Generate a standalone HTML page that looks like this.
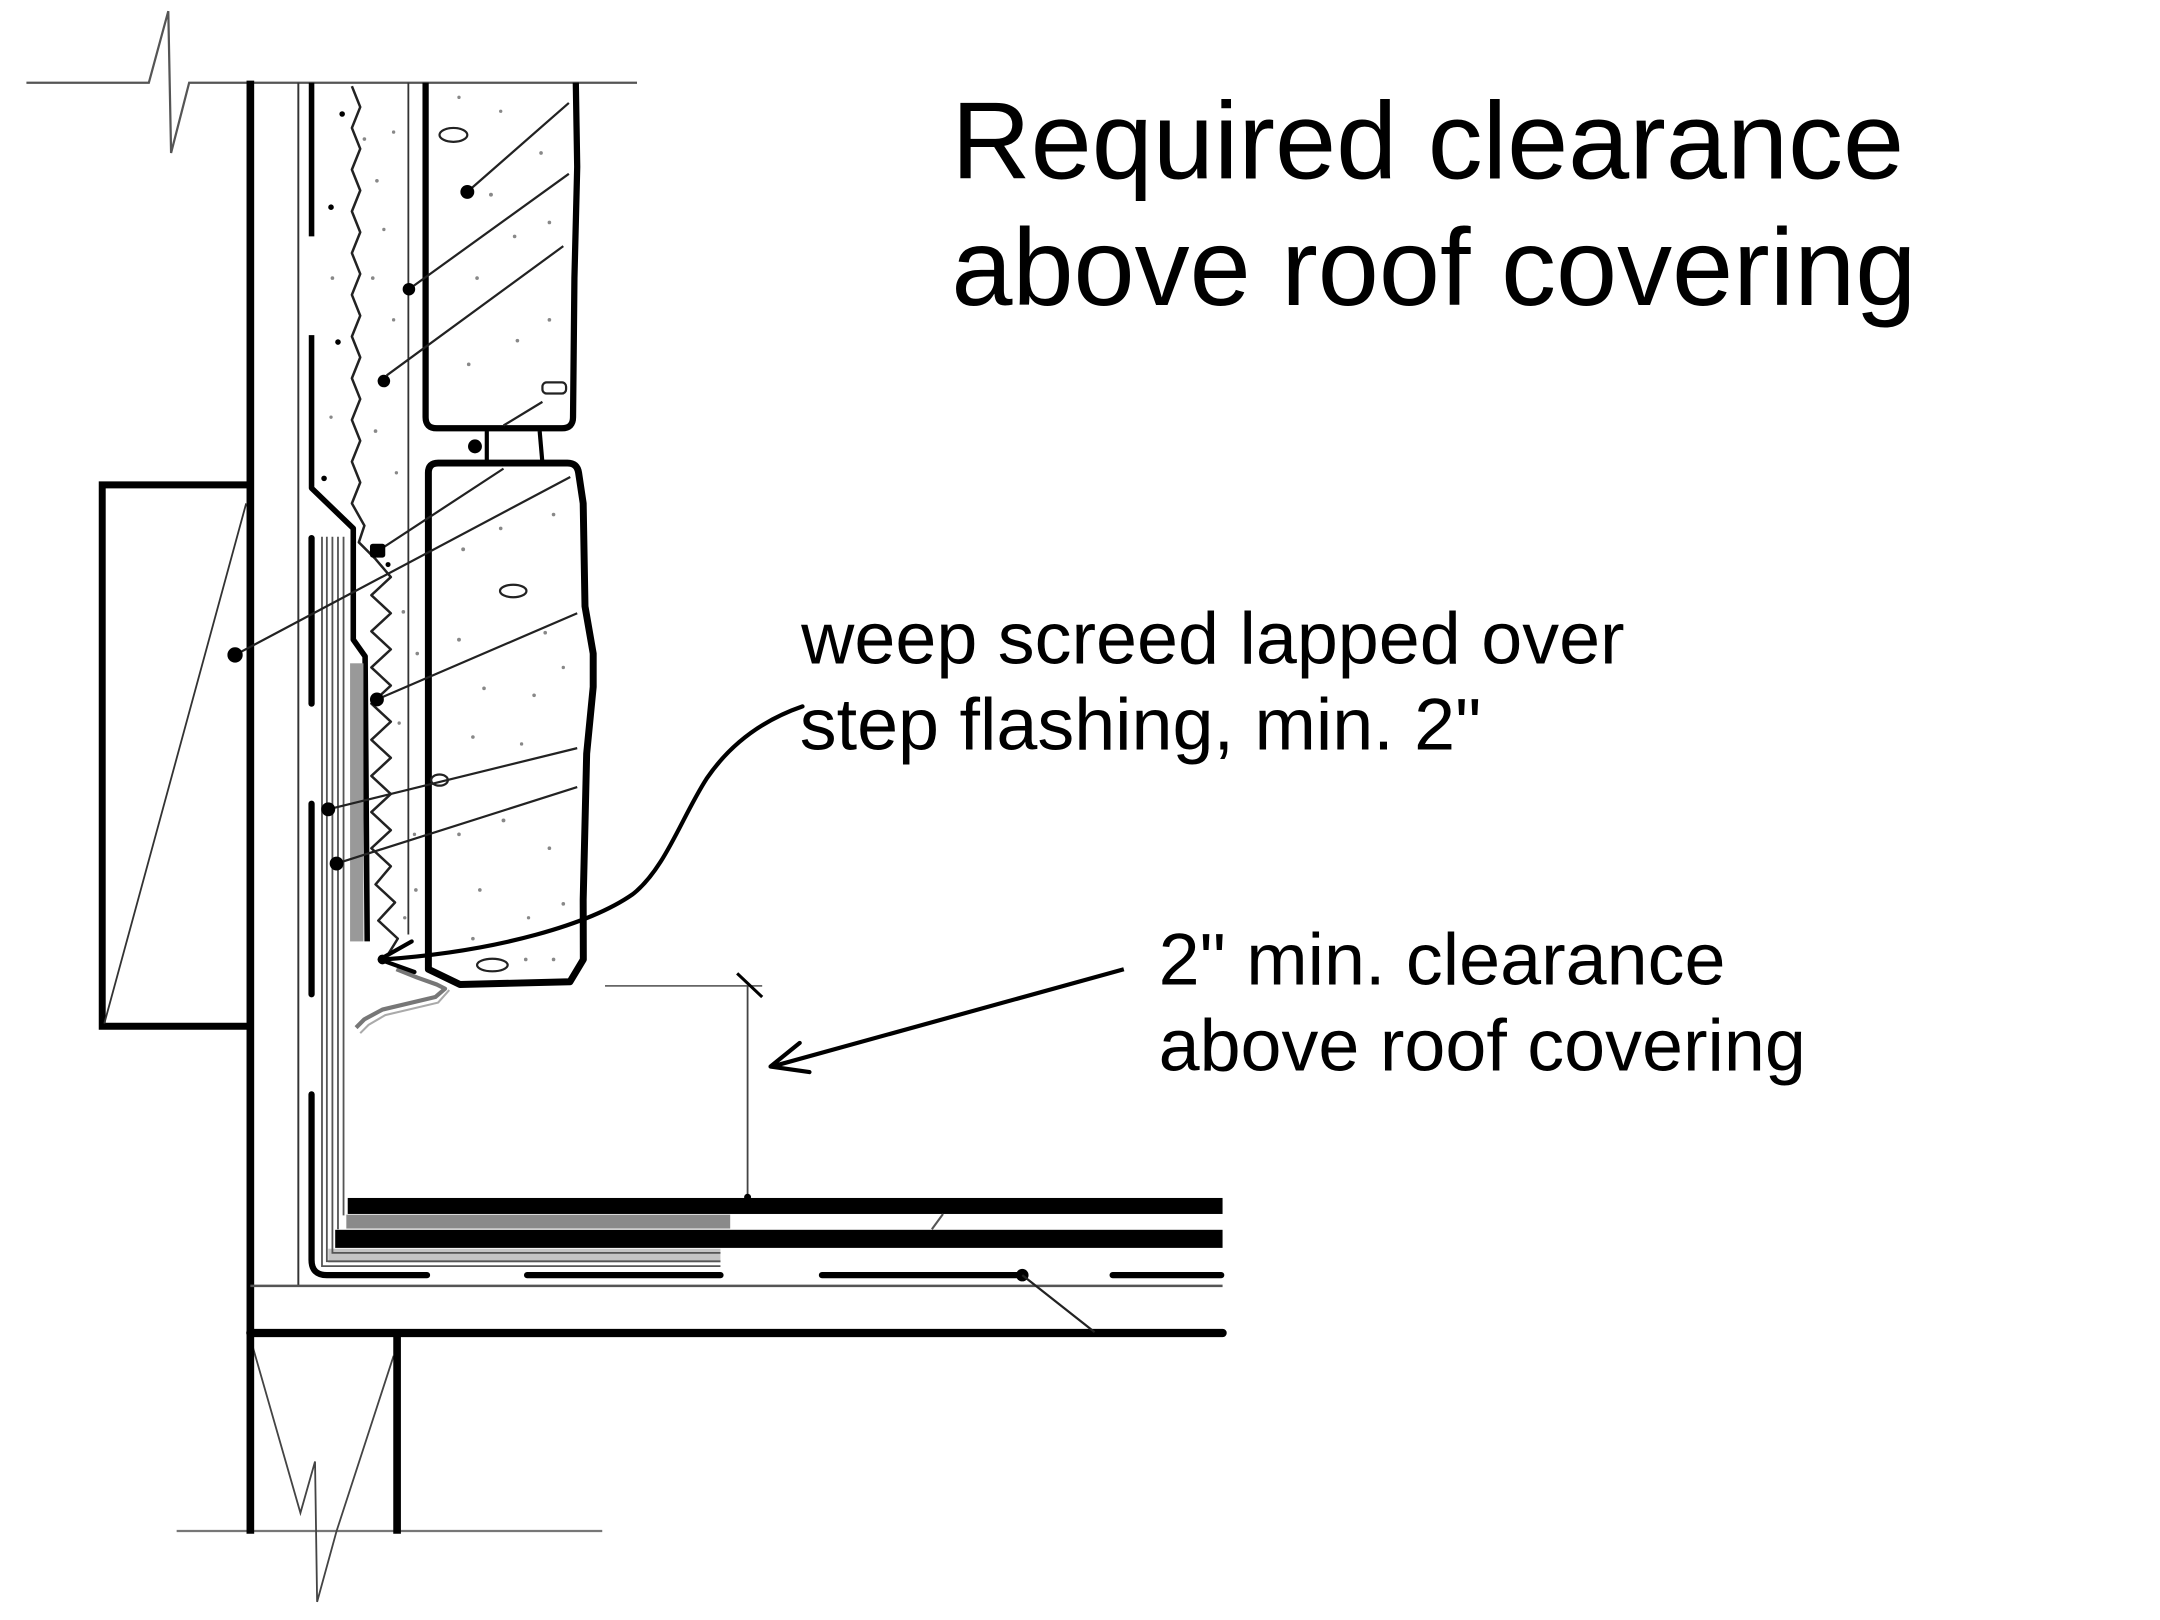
<!DOCTYPE html>
<html><head><meta charset="utf-8">
<style>
html,body{margin:0;padding:0;background:#fff;}
svg{display:block}
text{font-family:"Liberation Sans",Arial,sans-serif;fill:#000;}
</style>
</head><body>
<svg xmlns="http://www.w3.org/2000/svg" width="2160" height="1620" viewBox="0 0 1553 1165" preserveAspectRatio="none">
<rect width="1553" height="1165" fill="#fff"/>

<!-- break lines -->
<polyline points="19,59.5 107,59.5 121,8 123,110 136,59.5 458,59.5" stroke="#555" stroke-width="1.6" fill="none"/>
<line x1="127" y1="1101" x2="433" y2="1101" stroke="#777" stroke-width="1.6"/>
<polyline points="181,966 216,1088 226.5,1051 228,1152 242,1101 283,975" stroke="#444" stroke-width="1.3" fill="none"/>

<!-- wall -->
<line x1="180" y1="58" x2="180" y2="1103" stroke="#000" stroke-width="5.5"/>
<line x1="285.5" y1="958" x2="285.5" y2="1103" stroke="#000" stroke-width="5.5"/>

<!-- left box -->
<path d="M180,348.7 H73.5 V738 H180" stroke="#000" stroke-width="5" fill="none"/>
<line x1="177" y1="362" x2="75" y2="736" stroke="#333" stroke-width="1.3"/>

<!-- thin vertical sheathing line -->
<line x1="214.5" y1="59.5" x2="214.5" y2="925" stroke="#333" stroke-width="1.4"/>

<!-- deck -->
<line x1="180" y1="924.7" x2="879" y2="924.7" stroke="#555" stroke-width="1.8"/>
<line x1="180" y1="958.6" x2="879" y2="958.6" stroke="#000" stroke-width="6" stroke-linecap="round"/>

<!-- lath line -->
<line x1="224" y1="59.5" x2="224" y2="170" stroke="#000" stroke-width="4"/>
<polyline points="224,241 224,351 254,380 254,460 262.5,472 264,677" stroke="#000" stroke-width="4" fill="none" stroke-linejoin="round"/>

<!-- gray flashing layers -->
<rect x="251.7" y="477" width="9.6" height="200" fill="#999"/>
<rect x="236" y="898" width="282" height="10" fill="#c4c4c4"/>
<g stroke="#555" stroke-width="1.3" fill="none">
<path d="M231.5,386 V910.5 H518"/>
<path d="M235,386 V907 H518"/>
<path d="M239,386 V901 H518"/>
<path d="M243,386 V884"/>
<path d="M247,386 V874"/>
</g>
<rect x="249" y="873.5" width="276" height="10" fill="#8a8a8a"/>
<rect x="250" y="861.5" width="629" height="11.5" fill="#000"/>
<rect x="241" y="884.4" width="638" height="13" fill="#000"/>
<line x1="670" y1="884" x2="678" y2="873" stroke="#555" stroke-width="1.5"/>

<!-- dashed membrane -->
<g stroke="#000" stroke-width="4.5" fill="none" stroke-linecap="round">
<line x1="224" y1="387" x2="224" y2="506"/>
<line x1="224" y1="578" x2="224" y2="715"/>
<path d="M224,787 V906 Q224,917 235,917 H307"/>
<line x1="379" y1="917" x2="518" y2="917"/>
<line x1="591" y1="917" x2="732" y2="917"/>
<line x1="800" y1="917" x2="878" y2="917"/>
</g>
<circle cx="735" cy="917" r="4.5" fill="#000"/>
<line x1="735" y1="917" x2="787" y2="958" stroke="#222" stroke-width="1.6"/>

<!-- thin vertical line near block -->
<line x1="293.6" y1="59.5" x2="293.6" y2="672" stroke="#333" stroke-width="1.3"/>

<!-- wavy line -->
<polyline fill="none" stroke="#222" stroke-width="1.8" stroke-linejoin="round" points="253,62 259,77 253,92 259,107 253,122 259,137 253,152 259,167 253,182 259,197 253,212 259,227 253,242 259,257 253,272 259,287 253,302 259,317 253,332 259,347 253,362 262,378 258,390 270,402 281,415 267,428 281,441 267,454 281,467 267,480 281,493 267,506 281,519 267,532 281,545 267,558 281,571 267,584 281,597 267,610 281,623 270,636 284,649 272,662 286,675 278,688"/>

<!-- block 1 -->
<path d="M306,59.5 V300 Q306,308 314,308 H404 Q412,308 412,300 L413,200 L415,120 L414,59.5" stroke="#000" stroke-width="4.5" fill="none" stroke-linejoin="round"/>
<!-- mortar -->
<line x1="350" y1="310" x2="350" y2="333" stroke="#000" stroke-width="3"/>
<line x1="388" y1="310" x2="390" y2="333" stroke="#000" stroke-width="3"/>
<circle cx="341.5" cy="321" r="5" fill="#000"/>
<!-- block 2 -->
<path d="M308,697 V340 Q308,333 315,333 H408 Q415,333 416,340 L419.3,362 L420.6,436 L426.5,470 L426.5,494 L421.8,542 L419.3,647 L419.4,690 L409.8,706 L330.7,708 Z" stroke="#000" stroke-width="5" fill="none" stroke-linejoin="round"/>

<!-- ellipses / aggregate -->
<g stroke="#222" stroke-width="1.6" fill="none">
<ellipse cx="326" cy="97" rx="10" ry="5"/>
<ellipse cx="369" cy="425" rx="9.5" ry="4.5"/>
<ellipse cx="316" cy="561" rx="6" ry="4"/>
<ellipse cx="354" cy="694" rx="11" ry="4.5"/>
<rect x="390" y="275" width="17" height="8" rx="3"/>
</g>

<!-- leader lines -->
<g stroke="#222" stroke-width="1.6">
<line x1="336" y1="138" x2="409" y2="74"/>
<line x1="294" y1="208" x2="409" y2="125"/>
<line x1="278" y1="270" x2="405" y2="177"/>
<line x1="362" y1="306" x2="390" y2="289"/>
<line x1="169" y1="471" x2="410" y2="343"/>
<line x1="272" y1="396" x2="362" y2="337"/>
<line x1="271" y1="503" x2="415" y2="441"/>
<line x1="236" y1="582" x2="415" y2="538"/>
<line x1="242" y1="621" x2="415" y2="566"/>
</g>
<g fill="#000">
<circle cx="336" cy="138" r="5"/>
<circle cx="294" cy="208" r="4.5"/>
<circle cx="276" cy="274" r="4.5"/>
<circle cx="169" cy="471" r="5.5"/>
<rect x="266" y="391" width="11" height="10" rx="2"/>
<circle cx="271" cy="503" r="5"/>
<circle cx="236" cy="582" r="5"/>
<circle cx="242" cy="621" r="5"/>
<circle cx="238" cy="149" r="2"/>
<circle cx="246" cy="82" r="2"/>
<circle cx="243" cy="246" r="2"/>
<circle cx="233" cy="344" r="2"/>
<circle cx="279" cy="406" r="1.8"/>
</g>

<!-- stipple -->
<g fill="#888">
<circle cx="262" cy="100" r="1.3"/><circle cx="271" cy="130" r="1.3"/><circle cx="276" cy="165" r="1.2"/>
<circle cx="268" cy="200" r="1.3"/><circle cx="283" cy="230" r="1.2"/><circle cx="270" cy="310" r="1.3"/>
<circle cx="285" cy="340" r="1.2"/><circle cx="283" cy="95" r="1.2"/><circle cx="239" cy="200" r="1.3"/>
<circle cx="238" cy="300" r="1.2"/><circle cx="290" cy="440" r="1.3"/><circle cx="287" cy="520" r="1.2"/>
<circle cx="300" cy="470" r="1.3"/><circle cx="298" cy="600" r="1.2"/><circle cx="299" cy="640" r="1.3"/>
<circle cx="291" cy="660" r="1.2"/><circle cx="353" cy="140" r="1.4"/><circle cx="370" cy="170" r="1.3"/>
<circle cx="389" cy="110" r="1.3"/><circle cx="395" cy="160" r="1.3"/><circle cx="343" cy="200" r="1.3"/>
<circle cx="372" cy="245" r="1.3"/><circle cx="337" cy="262" r="1.3"/><circle cx="395" cy="230" r="1.3"/>
<circle cx="330" cy="70" r="1.2"/><circle cx="360" cy="80" r="1.2"/><circle cx="333" cy="395" r="1.4"/>
<circle cx="360" cy="380" r="1.3"/><circle cx="398" cy="370" r="1.3"/><circle cx="330" cy="460" r="1.4"/>
<circle cx="392" cy="455" r="1.3"/><circle cx="348" cy="495" r="1.3"/><circle cx="384" cy="500" r="1.3"/>
<circle cx="405" cy="480" r="1.2"/><circle cx="340" cy="530" r="1.3"/><circle cx="375" cy="535" r="1.2"/>
<circle cx="330" cy="600" r="1.3"/><circle cx="362" cy="590" r="1.4"/><circle cx="395" cy="610" r="1.3"/>
<circle cx="345" cy="640" r="1.3"/><circle cx="380" cy="660" r="1.2"/><circle cx="405" cy="650" r="1.3"/>
<circle cx="340" cy="675" r="1.3"/><circle cx="378" cy="690" r="1.3"/><circle cx="398" cy="690" r="1.3"/>
</g>

<!-- weep screed profile -->
<polyline points="256,739 262,733 275,726 313,717 320,711 314,708 300,703 285,697" stroke="#777" stroke-width="3" fill="none" stroke-linejoin="round"/>
<polyline points="259,743 265,737 277,730 315,721 323,712" stroke="#aaa" stroke-width="1.5" fill="none"/>

<!-- dimension -->
<line x1="435" y1="709" x2="548" y2="709" stroke="#666" stroke-width="1.3"/>
<line x1="537.5" y1="709" x2="537.5" y2="861" stroke="#444" stroke-width="1.3"/>
<line x1="530" y1="700" x2="548" y2="717" stroke="#000" stroke-width="2.2"/>
<circle cx="537.5" cy="861" r="2.5" fill="#000"/>

<!-- arrow to clearance -->
<line x1="808" y1="697" x2="555" y2="767" stroke="#000" stroke-width="3"/>
<polyline points="575,750 554,767 582,771" stroke="#000" stroke-width="3" fill="none" stroke-linecap="round" stroke-linejoin="round"/>

<!-- curved leader to weep screed -->
<path d="M577,508 C548,518 525,535 508,560 C490,588 478,625 455,643 C425,664 360,684 275,690" stroke="#000" stroke-width="3" fill="none" stroke-linecap="round"/>
<polyline points="296,677 273,690 298,699" stroke="#000" stroke-width="3" fill="none" stroke-linecap="round" stroke-linejoin="round"/>
<circle cx="275" cy="690" r="3.5" fill="#000"/>

<!-- text -->
<text x="684" y="128.2" font-size="79">Required clearance</text>
<text x="684" y="219.3" font-size="79">above roof covering</text>
<text x="576" y="477" font-size="53">weep screed lapped over</text>
<text x="575" y="539" font-size="53">step flashing, min. 2"</text>
<text x="833" y="708" font-size="53">2" min. clearance</text>
<text x="833" y="770" font-size="53">above roof covering</text>
</svg>
</body></html>
